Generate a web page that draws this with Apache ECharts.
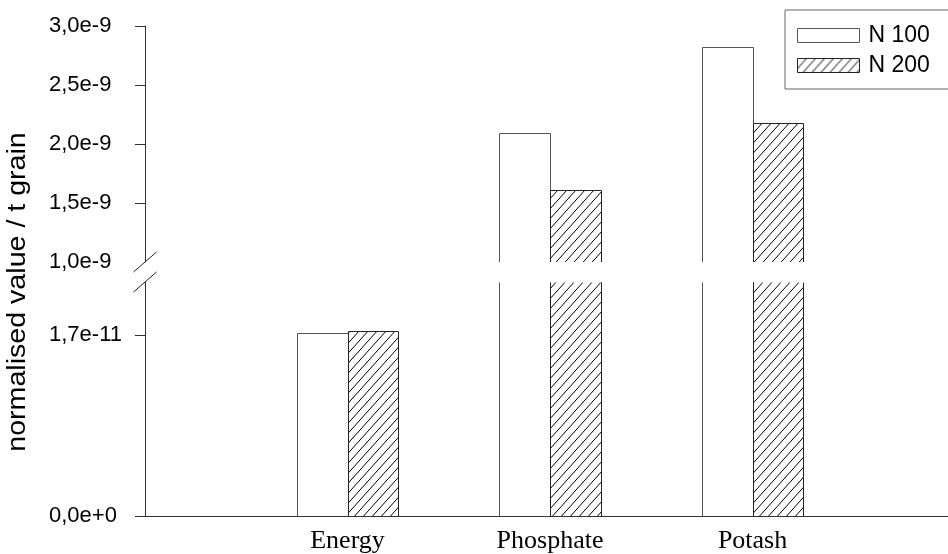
<!DOCTYPE html>
<html>
<head>
<meta charset="utf-8">
<script src="https://cdn.jsdelivr.net/npm/echarts@6/dist/echarts.min.js"></script>
<style>
  html, body { margin: 0; padding: 0; background: #fff; }
  #chart { width: 948px; height: 554px; }
</style>
</head>
<body>
<div id="chart"></div>
<script>
// Values per input category, for the two nitrogen rates
const categories = ['Energy', 'Phosphate', 'Potash'];
const xPositions = [1, 2, 3];
const n100 = [1.72e-11, 2.09e-9, 2.82e-9];
const n200 = [1.74e-11, 1.61e-9, 2.18e-9];

// Broken value axis: upper and lower segments
const upperRange = [1.0e-9, 3.0e-9];
const lowerRange = [0, 2.2e-11];
const upperTicks = [1.0e-9, 1.5e-9, 2.0e-9, 2.5e-9, 3.0e-9];
const lowerTicks = [0, 1.7e-11];

const xMax = 3.965;
const BAR_FRACTION = 0.25;

function fmtSci(v) {
  return Number(v).toExponential(1).replace('.', ',');
}

function makeHatch() {
  const c = document.createElement('canvas');
  const w = 9, h = 10;
  c.width = w; c.height = h;
  const g = c.getContext('2d');
  g.fillStyle = '#fff';
  g.fillRect(0, 0, w, h);
  g.strokeStyle = '#000';
  g.lineWidth = 1;
  for (const dx of [-w, 0, w]) {
    g.beginPath();
    g.moveTo(dx, h);
    g.lineTo(dx + w, 0);
    g.stroke();
  }
  return c;
}
const hatch = { image: makeHatch(), repeat: 'repeat' };

const styles = {
  'N 100': { fill: '#fff', stroke: '#555' },
  'N 200': { fill: hatch, stroke: '#222' }
};

// Bars drawn as open-ended boxes so the cut at the axis break stays open
function barRenderer(name, side, range) {
  const st = styles[name];
  return function (params, api) {
    const xv = api.value(0);
    const v = api.value(1);
    const lo = range[0], hi = range[1];
    if (!(v > lo)) return null;
    const unit = api.size([1, 0])[0];
    const w = unit * BAR_FRACTION;
    const cx = api.coord([xv, lo])[0];
    let x0 = side < 0 ? cx - w : cx;
    let x1 = side < 0 ? cx : cx + w;
    x0 = Math.round(x0) + 0.5;
    x1 = Math.round(x1) + 0.5;
    const yBase = api.coord([xv, lo])[1];
    const capped = v > hi;
    const yTop = Math.round(api.coord([xv, Math.min(v, hi)])[1]) + 0.5;
    const children = [{
      type: 'rect',
      shape: { x: x0, y: yTop, width: x1 - x0, height: yBase - yTop },
      style: { fill: st.fill, stroke: null }
    }];
    const lineStyle = { stroke: st.stroke, lineWidth: 1, fill: null };
    if (capped) {
      children.push({ type: 'polyline', shape: { points: [[x0, yBase], [x0, yTop]] }, style: lineStyle });
      children.push({ type: 'polyline', shape: { points: [[x1, yBase], [x1, yTop]] }, style: lineStyle });
    } else {
      children.push({ type: 'polyline', shape: { points: [[x0, yBase], [x0, yTop], [x1, yTop], [x1, yBase]] }, style: lineStyle });
    }
    return { type: 'group', children: children };
  };
}

function pairs(vals) {
  return xPositions.map((x, i) => [x, vals[i]]);
}

function makeSeries(name, vals, side, gridIdx, range) {
  return {
    type: 'custom',
    name: name,
    xAxisIndex: gridIdx,
    yAxisIndex: gridIdx,
    clip: true,
    renderItem: barRenderer(name, side, range),
    encode: { x: 0, y: 1 },
    itemStyle: { color: styles[name].fill, borderColor: styles[name].stroke, borderWidth: 1 },
    data: pairs(vals)
  };
}

const axisLine = { show: true, lineStyle: { color: '#333', width: 1 } };
// Tick labels share a common left edge
const tickLabel = { color: '#000', fontFamily: 'Liberation Sans', fontSize: 22, margin: 96, align: 'left', formatter: fmtSci };

const chart = echarts.init(document.getElementById('chart'), null, { renderer: 'canvas' });

chart.setOption({
  animation: false,
  backgroundColor: '#fff',
  grid: [
    { left: 145, right: 0, top: 26, bottom: 292 },
    { left: 145, right: 0, top: 282, bottom: 38 }
  ],
  xAxis: [
    { type: 'value', gridIndex: 0, min: 0, max: xMax, show: false },
    {
      type: 'value', gridIndex: 1, min: 0, max: xMax,
      axisLine: axisLine,
      axisTick: { show: false },
      splitLine: { show: false },
      axisLabel: {
        customValues: xPositions,
        formatter: v => categories[xPositions.indexOf(v)] || '',
        color: '#000', fontFamily: 'Liberation Serif', fontSize: 26, margin: 12
      }
    }
  ],
  yAxis: [
    {
      type: 'value', gridIndex: 0, min: upperRange[0], max: upperRange[1],
      axisLine: axisLine,
      axisTick: { show: true, inside: false, length: 10, customValues: upperTicks.slice(1), lineStyle: { color: '#333' } },
      splitLine: { show: false },
      axisLabel: Object.assign({ customValues: upperTicks }, tickLabel)
    },
    {
      type: 'value', gridIndex: 1, min: lowerRange[0], max: lowerRange[1],
      axisLine: axisLine,
      axisTick: { show: true, inside: false, length: 10, customValues: lowerTicks, lineStyle: { color: '#333' } },
      splitLine: { show: false },
      axisLabel: Object.assign({ customValues: lowerTicks }, tickLabel)
    }
  ],
  legend: {
    left: 785,
    top: 10,
    orient: 'vertical',
    itemWidth: 62,
    itemHeight: 14,
    itemGap: 7,
    padding: [14, 40, 12, 12],
    borderColor: '#666',
    borderWidth: 1,
    backgroundColor: '#fff',
    textStyle: { color: '#000', fontFamily: 'Liberation Sans', fontSize: 23, padding: [0, 0, 0, 4] },
    data: [
      { name: 'N 100', icon: 'rect', itemStyle: { color: '#fff', borderColor: '#555', borderWidth: 1 } },
      { name: 'N 200', icon: 'rect', itemStyle: { color: hatch, borderColor: '#222', borderWidth: 1 } }
    ]
  },
  series: [
    makeSeries('N 100', n100, -1, 0, upperRange),
    makeSeries('N 200', n200, 1, 0, upperRange),
    makeSeries('N 100', n100, -1, 1, lowerRange),
    makeSeries('N 200', n200, 1, 1, lowerRange)
  ]
});

// Axis title and break marks, placed from the axes' own pixel mapping
const pUpper = chart.convertToPixel({ gridIndex: 0 }, [0, upperRange[0]]);
const pLower = chart.convertToPixel({ gridIndex: 1 }, [0, lowerRange[1]]);
const pTop = chart.convertToPixel({ gridIndex: 0 }, [0, upperRange[1]]);
const pZero = chart.convertToPixel({ gridIndex: 1 }, [0, lowerRange[0]]);
function slash(p) {
  return {
    type: 'line',
    shape: { x1: p[0] - 11.5, y1: p[1] + 10, x2: p[0] + 11.5, y2: p[1] - 10 },
    style: { stroke: '#222', lineWidth: 1 },
    z: 100
  };
}
chart.setOption({
  graphic: [
    slash(pUpper),
    slash(pLower),
    {
      type: 'text',
      x: 18,
      y: (pTop[1] + pZero[1]) / 2 + 21,
      rotation: Math.PI / 2,
      scaleX: 1.1,
      style: {
        text: 'normalised value / t grain',
        fontFamily: 'Liberation Sans',
        fontSize: 26,
        fill: '#000',
        align: 'center',
        verticalAlign: 'middle'
      }
    }
  ]
});
</script>
</body>
</html>
